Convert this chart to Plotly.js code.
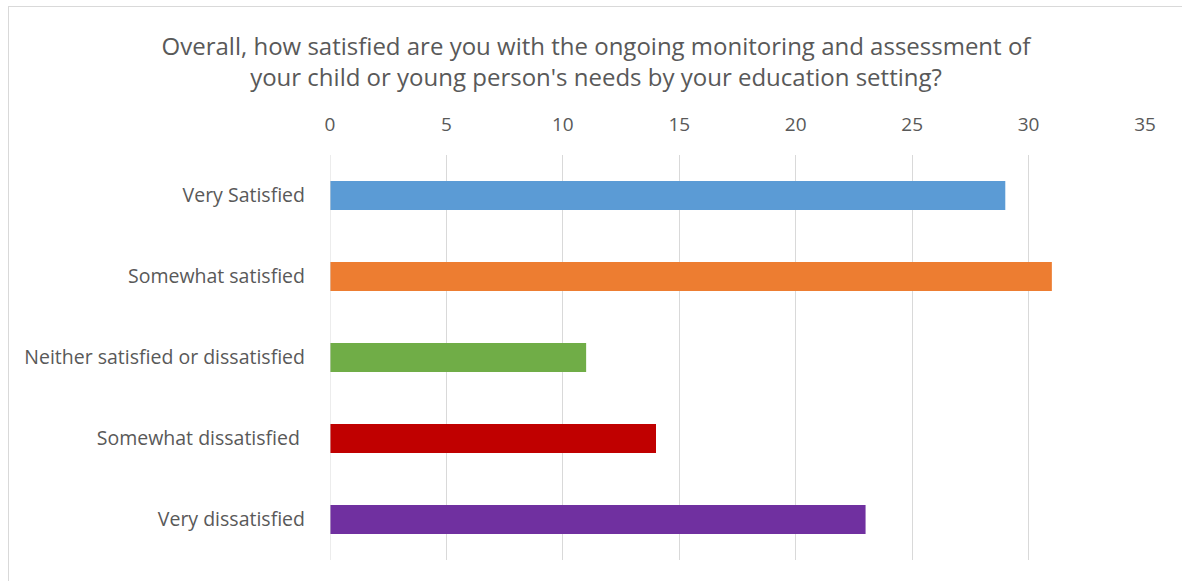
<!DOCTYPE html>
<html>
<head>
<meta charset="utf-8">
<script src="https://cdn.plot.ly/plotly-3.0.1.min.js"></script>
<style>
  body { margin: 0; background: #fff; }
  #chart { position: absolute; left: 8px; top: 6px; width: 1174px; height: 575px;
           border: 1px solid #d9d9d9; box-sizing: border-box; }
</style>
</head>
<body>
<div id="chart"></div>
<script>
'use strict';

var categories = ['Very Satisfied', 'Somewhat satisfied', 'Neither satisfied or dissatisfied',
                  'Somewhat dissatisfied\u00a0', 'Very dissatisfied'];
var counts = [29, 31, 11, 14, 23];
var barColors = ['#5B9BD5', '#ED7D31', '#70AD47', '#C00000', '#7030A0'];
var tickValues = [0, 5, 10, 15, 20, 25, 30, 35];

var data = [{
    type: 'bar',
    orientation: 'h',
    x: counts,
    y: categories,
    marker: {color: barColors},
    hoverinfo: 'x+y'
}];

var layout = {
    width: 1174,
    height: 575,
    paper_bgcolor: '#ffffff',
    plot_bgcolor: '#ffffff',
    font: {family: '"Open Sans", sans-serif', color: '#595959', size: 19},
    showlegend: false,
    bargap: 0.64,
    margin: {l: 321, r: 38, t: 148, b: 22},
    title: {
        text: 'Overall, how satisfied are you with the ongoing monitoring and assessment of<br>your child or young person\'s needs by your education setting?',
        font: {size: 24, color: '#595959'},
        x: 0.5,
        xanchor: 'center',
        y: 0.917,
        yanchor: 'top'
    },
    xaxis: {
        side: 'top',
        range: [0, 35],
        tickvals: tickValues,
        showgrid: true,
        gridcolor: '#d9d9d9',
        gridwidth: 1,
        zeroline: false,
        showline: false,
        ticks: '',
        ticklabelstandoff: 19,
        tickfont: {size: 19},
        fixedrange: true
    },
    yaxis: {
        autorange: 'reversed',
        showgrid: false,
        zeroline: false,
        showline: false,
        ticks: '',
        ticklabelstandoff: 24,
        tickfont: {size: 19.5},
        fixedrange: true
    },
    shapes: [{
        type: 'line', xref: 'x', yref: 'paper',
        x0: 0, x1: 0, y0: 0, y1: 1,
        line: {color: '#d9d9d9', width: 1}
    }]
};

Plotly.newPlot('chart', data, layout, {displayModeBar: false, staticPlot: true});
</script>
</body>
</html>
